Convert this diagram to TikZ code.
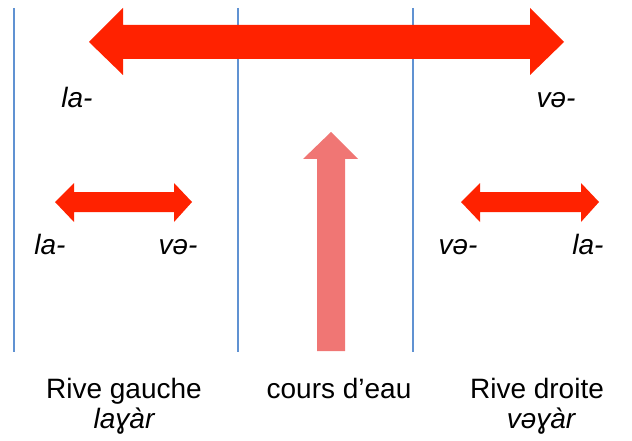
\documentclass[tikz,border=0pt]{standalone}
\usepackage{fontspec}
\setmainfont{Liberation Sans}
\definecolor{arrowred}{RGB}{255,34,0}
\definecolor{streampink}{RGB}{240,118,116}
\definecolor{bankblue}{RGB}{96,146,210}
\begin{document}
\begin{tikzpicture}[x=1pt,y=-1pt,
  bank/.style={draw=bankblue,line width=1.4pt},
  redarrow/.style={fill=arrowred,draw=none},
  pinkarrow/.style={fill=streampink,draw=none},
  lbl/.style={anchor=base,inner sep=0pt,font=\fontsize{28}{32}\selectfont},
  ilbl/.style={lbl,font=\fontsize{28}{32}\selectfont\itshape}]
\useasboundingbox (0,0) rectangle (632,441);
% banks
\coordinate (b1t) at (14,8);   \coordinate (b1b) at (14,352);
\coordinate (b2t) at (238,8);  \coordinate (b2b) at (238,352);
\coordinate (b3t) at (413,8);  \coordinate (b3b) at (413,352);
\draw[bank] (b1t) -- (b1b);
\draw[bank] (b2t) -- (b2b);
\draw[bank] (b3t) -- (b3b);
% big double arrow
\fill[redarrow] (89,42) -- (123,8) -- (123,25) -- (530,25) -- (530,8) -- (564,42)
  -- (530,75) -- (530,59) -- (123,59) -- (123,75) -- cycle;
% small left double arrow
\fill[redarrow] (55,202) -- (74,183) -- (74,192) -- (174,192) -- (174,183) -- (192,202)
  -- (174,222) -- (174,212) -- (74,212) -- (74,222) -- cycle;
% small right double arrow
\fill[redarrow] (461,202) -- (480,183) -- (480,192) -- (581,192) -- (581,183) -- (599,202)
  -- (581,222) -- (581,212) -- (480,212) -- (480,222) -- cycle;
% stream arrow
\fill[pinkarrow] (331,132) -- (358,159) -- (345,159) -- (345,351) -- (317,351)
  -- (317,159) -- (303,159) -- cycle;
% labels
\node[ilbl] (tla) at (77,108) {la-};
\node[ilbl] (tve) at (556,108) {və-};
\node[ilbl] (lla) at (50,254) {la-};
\node[ilbl] (lve) at (178,254) {və-};
\node[ilbl] (rve) at (458,254) {və-};
\node[ilbl] (rla) at (588,254) {la-};
\node[lbl] (rg) at (124,398) {Rive gauche};
\node[ilbl] (rgw) at (124,428) {laɣàr};
\node[lbl] (ce) at (339,398) {cours d’eau};
\node[lbl] (rd) at (537,398) {Rive droite};
\node[ilbl] (rdw) at (541,428) {vəɣàr};
\end{tikzpicture}
\end{document}
